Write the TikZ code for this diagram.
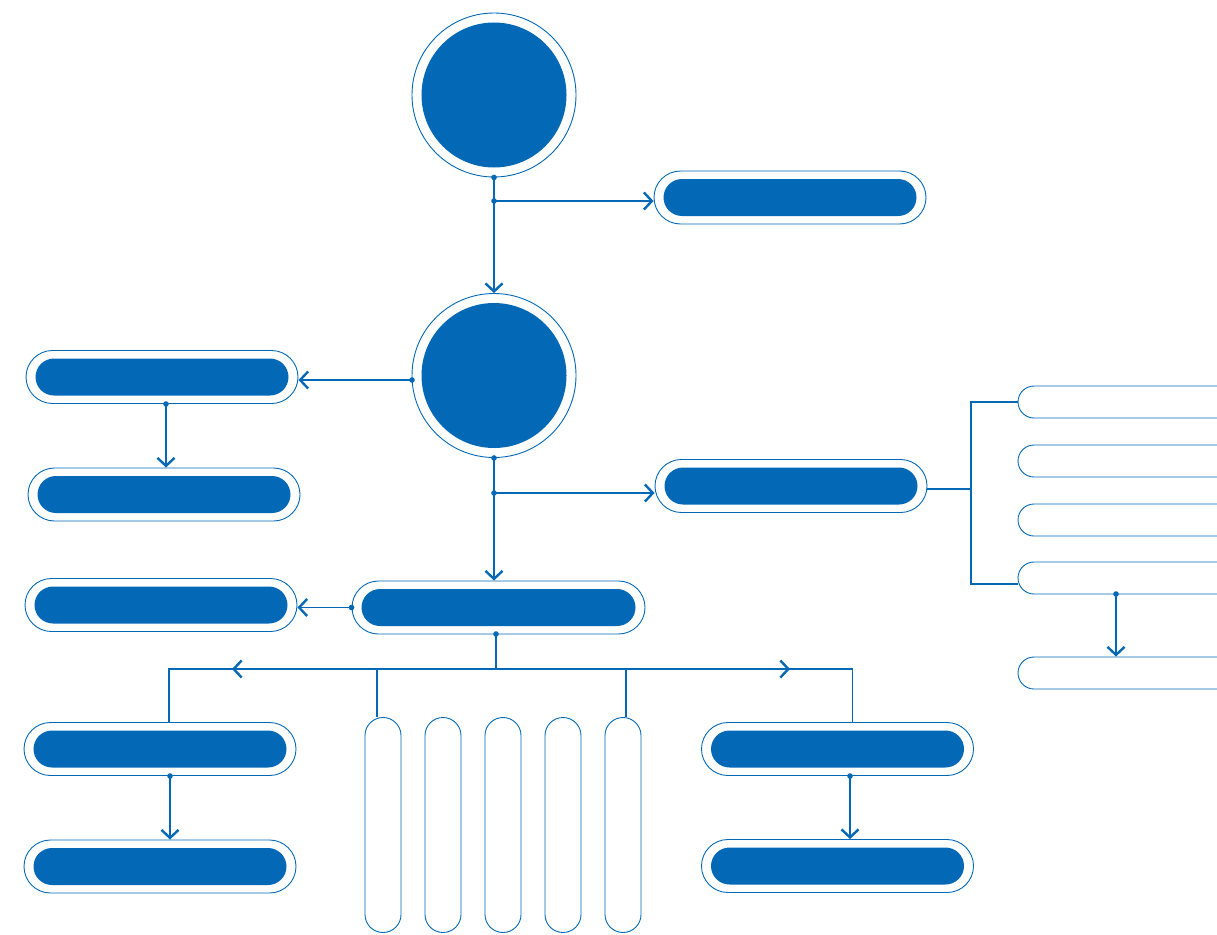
\documentclass[tikz,border=0pt]{standalone}
\usepackage{tikz}
\usetikzlibrary{calc}
\usetikzlibrary{arrows.meta,shapes}
\definecolor{ubblue}{RGB}{3,105,183}
\tikzstyle{link} = [ubblue, line width=1.7pt]
\tikzstyle{arr} = [link, -{Straight Barb[length=8pt,width=17pt,line width=2.4pt]}]
\tikzstyle{hub} = [circle, draw=ubblue, line width=0.9pt, minimum size=164pt, inner sep=0pt, path picture={\fill[ubblue] (path picture bounding box.center) circle (72.5pt);}]
\tikzstyle{slot} = [rounded rectangle, draw=ubblue, line width=0.9pt, minimum width=260pt, minimum height=32pt, inner sep=0pt]
\tikzstyle{column} = [rectangle, rounded corners=18pt, draw=ubblue, line width=0.9pt, minimum width=36pt, minimum height=215pt, inner sep=0pt]
\tikzset{pill/.style={rounded rectangle, draw=ubblue, line width=0.9pt, minimum width=#1, minimum height=53pt, inner sep=0pt,
	path picture={\node[rounded rectangle, fill=ubblue, minimum width=#1-19pt, minimum height=37pt, inner sep=0pt] at (path picture bounding box.center) {};}}}

\begin{document}
\begin{tikzpicture} [x=1pt, y=-1pt]

						\useasboundingbox (0,0) rectangle (1217,934);

						\node[hub] (c1) at (494,95) {};
						\node[hub] (c2) at (494,375.5) {};

						\node[pill=272pt] (p1) at (790,197.5) {};
						\node[pill=272pt] (left1) at (162,377) {};
						\node[pill=272pt] (left2) at (164,494.5) {};
						\node[pill=272pt] (right) at (791,486) {};
						\node[pill=293pt] (mid) at (498.5,607.5) {};
						\node[pill=272pt] (left3) at (161,605) {};
						\node[pill=272pt] (low1) at (160,749) {};
						\node[pill=272pt] (low2) at (160,866.5) {};
						\node[pill=272pt] (low3) at (837.5,749) {};
						\node[pill=272pt] (low4) at (837.5,866) {};

						\node[slot] (slot1) at (1148,402) {};
						\node[slot] (slot2) at (1148,461) {};
						\node[slot] (slot3) at (1148,520) {};
						\node[slot] (slot4) at (1148,578) {};
						\node[slot] (slot5) at (1148,673) {};

						\foreach \i/\x in {1/383,2/443,3/503,4/563,5/623}
							\node[column] (col\i) at (\x,825) {};

						\coordinate (j1) at (494,201);
						\coordinate (j2) at (412,380);
						\coordinate (j3) at (166,404);
						\coordinate (j4) at (494,493);
						\coordinate (j5) at (1116,594);
						\coordinate (j6) at (496,634);
						\coordinate (j7) at (170,776);
						\coordinate (j8) at (850,776);
						\coordinate (k) at (971,489);
						\coordinate (k4) at (1018,584);
						\coordinate (bus) at (496,669);
						\coordinate (bw) at (232,669);
						\coordinate (be) at (790,669);

						\draw[arr] (c1.south) -- (c2.north);
						\draw[arr] (j1) -- (j1 -| p1.west);
						\draw[arr] (j2) -- (j2 -| left1.east);
						\draw[arr] (j3) -- (j3 |- left2.north);
						\draw[arr] (c2.south) -- (c2.south |- mid.north);
						\draw[arr] (j4) -- (j4 -| right.west);

						\draw[link] (right.east |- k) -- (k);
						\draw[link] (slot1.west) -| (k) |- (k4);
						\draw[arr] (j5) -- (j5 |- slot5.north);

						\draw[arr] (mid.west) -- (mid.west -| left3.east);
						\draw[link] (j6) -- (bus);
						\draw[link] ([xshift=9pt]low1.north) |- (bus) -| ([xshift=15pt]low3.north);
						\draw[link] ([xshift=-6pt]col1.north) -- ([xshift=-6pt]col1.north |- bus);
						\draw[link] ([xshift=3pt]col5.north) -- ([xshift=3pt]col5.north |- bus);
						\draw[arr] (bus) -- (bw);
						\draw[arr] (bus) -- (be);

						\draw[arr] (j7) -- (j7 |- low2.north);
						\draw[arr] (j8) -- (j8 |- low4.north);

						\foreach \p in {c1.south, j1, j2, j3, c2.south, j4, j5, mid.west, j6, j7, j8}
							\fill[ubblue] (\p) circle (2.8pt);

					\end{tikzpicture}
\end{document}
